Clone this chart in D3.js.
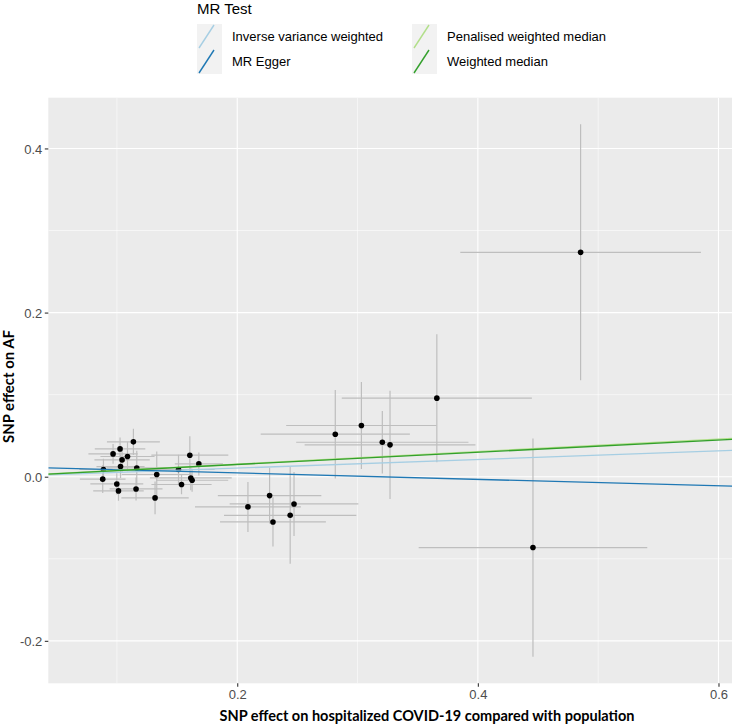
<!DOCTYPE html>
<html>
<head>
<meta charset="utf-8">
<script src="https://cdn.jsdelivr.net/npm/d3@7"></script>
<style>
  html, body { margin: 0; padding: 0; background: #ffffff; }
  svg { display: block; }
</style>
</head>
<body>
<svg id="chart" width="733" height="725"></svg>
<script>
// ---- data ----
const snpX    = [0.4854, 0.4458, 0.3659, 0.3032, 0.2815, 0.3206, 0.3270, 0.2089, 0.2269, 0.2297, 0.2440, 0.2472,
                 0.1137, 0.1026, 0.0968, 0.1088, 0.1043, 0.1030, 0.1165, 0.0888, 0.0882, 0.1331, 0.0999, 0.1013,
                 0.1159, 0.1317, 0.1606, 0.1681, 0.1512, 0.1614, 0.1625, 0.1537];
const snpY    = [0.2734, -0.0863, 0.0957, 0.0624, 0.0518, 0.0420, 0.0388, -0.0368, -0.0230, -0.0551, -0.0470, -0.0332,
                 0.0425, 0.0339, 0.0278, 0.0246, 0.0205, 0.0124, 0.0107, 0.0088, -0.0030, 0.0027, -0.0088, -0.0173,
                 -0.0149, -0.0258, 0.0262, 0.0156, 0.0088, -0.0015, -0.0043, -0.0095];
const snpXse  = [0.100, 0.095, 0.079, 0.0625, 0.062, 0.0716, 0.071, 0.044, 0.043, 0.044, 0.055, 0.0535,
                 0.022, 0.021, 0.0205, 0.0225, 0.023, 0.020, 0.025, 0.020, 0.019, 0.029, 0.022, 0.021,
                 0.022, 0.028, 0.032, 0.020, 0.030, 0.034, 0.030, 0.025];
const snpYse  = [0.156, 0.133, 0.078, 0.053, 0.054, 0.038, 0.066, 0.0305, 0.034, 0.030, 0.059, 0.039,
                 0.016, 0.014, 0.012, 0.018, 0.015, 0.014, 0.021, 0.013, 0.017, 0.028, 0.013, 0.012,
                 0.014, 0.020, 0.023, 0.014, 0.018, 0.015, 0.014, 0.012];

const methods    = ["Inverse variance weighted", "MR Egger", "Penalised weighted median", "Weighted median"];
const intercepts = [0, 0.0125, 0, 0];
const slopes     = [0.0525, -0.0393, 0.0765, 0.0745];
const colours    = ["#a6cee3", "#1f78b4", "#b2df8a", "#33a02c"];

const xTicks = [0.2, 0.4, 0.6];
const yTicks = [-0.2, 0.0, 0.2, 0.4];
const xMinor = [0.1, 0.3, 0.5];
const yMinor = [-0.1, 0.1, 0.3];

const legendTitle = "MR Test";
const xTitle = "SNP effect on hospitalized COVID-19 compared with population";
const yTitle = "SNP effect on AF";

// ---- layout ----
const svg = d3.select("#chart");
const P = { left: 48.3, right: 732, top: 97.7, bottom: 683.3 };

const pts = snpX.map((x, i) => ({ x, y: snpY[i], xse: snpXse[i], yse: snpYse[i] }));
const xLo = d3.min(pts, d => d.x - d.xse), xHi = d3.max(pts, d => d.x + d.xse);
const yLo = d3.min(pts, d => d.y - d.yse), yHi = d3.max(pts, d => d.y + d.yse);
const xPad = (xHi - xLo) * 0.05, yPad = (yHi - yLo) * 0.05;

const x = d3.scaleLinear().domain([xLo - xPad, xHi + xPad]).range([P.left, P.right]);
const y = d3.scaleLinear().domain([yLo - yPad, yHi + yPad]).range([P.bottom, P.top]);

const defs = svg.append("defs");
defs.append("clipPath").attr("id", "panel")
  .append("rect").attr("x", P.left).attr("y", P.top)
  .attr("width", P.right - P.left).attr("height", P.bottom - P.top);

// panel background
svg.append("rect").attr("x", P.left).attr("y", P.top)
  .attr("width", P.right - P.left).attr("height", P.bottom - P.top)
  .attr("fill", "#EBEBEB");

const grid = svg.append("g").attr("clip-path", "url(#panel)");
grid.selectAll("line.xminor").data(xMinor).join("line")
  .attr("x1", d => x(d)).attr("x2", d => x(d)).attr("y1", P.top).attr("y2", P.bottom)
  .attr("stroke", "#ffffff").attr("stroke-width", 0.55);
grid.selectAll("line.yminor").data(yMinor).join("line")
  .attr("y1", d => y(d)).attr("y2", d => y(d)).attr("x1", P.left).attr("x2", P.right)
  .attr("stroke", "#ffffff").attr("stroke-width", 0.55);
grid.selectAll("line.xmajor").data(xTicks).join("line")
  .attr("x1", d => x(d)).attr("x2", d => x(d)).attr("y1", P.top).attr("y2", P.bottom)
  .attr("stroke", "#ffffff").attr("stroke-width", 1.1);
grid.selectAll("line.ymajor").data(yTicks).join("line")
  .attr("y1", d => y(d)).attr("y2", d => y(d)).attr("x1", P.left).attr("x2", P.right)
  .attr("stroke", "#ffffff").attr("stroke-width", 1.1);

// error bars, points, regression lines
const plot = svg.append("g").attr("clip-path", "url(#panel)");
plot.selectAll("line.ev").data(pts).join("line")
  .attr("x1", d => x(d.x)).attr("x2", d => x(d.x))
  .attr("y1", d => y(d.y - d.yse)).attr("y2", d => y(d.y + d.yse))
  .attr("stroke", "#BEBEBE").attr("stroke-width", 1.2);
plot.selectAll("line.eh").data(pts).join("line")
  .attr("y1", d => y(d.y)).attr("y2", d => y(d.y))
  .attr("x1", d => x(d.x - d.xse)).attr("x2", d => x(d.x + d.xse))
  .attr("stroke", "#BEBEBE").attr("stroke-width", 1.2);
plot.selectAll("circle").data(pts).join("circle")
  .attr("cx", d => x(d.x)).attr("cy", d => y(d.y)).attr("r", 2.8)
  .attr("fill", "#000000");

const xd = x.domain();
const lines = methods.map((m, i) => ({ m, a: intercepts[i], b: slopes[i], c: colours[i] }));
plot.selectAll("line.abl").data(lines).join("line")
  .attr("x1", x(xd[0])).attr("x2", x(xd[1]))
  .attr("y1", d => y(d.a + d.b * xd[0])).attr("y2", d => y(d.a + d.b * xd[1]))
  .attr("stroke", d => d.c).attr("stroke-width", 1.4);

// axes
const fmt = d => d3.format(".1f")(d).replace("\u2212", "-");
const xAxis = svg.append("g").attr("transform", `translate(0,${P.bottom})`)
  .call(d3.axisBottom(x).tickValues(xTicks).tickFormat(fmt).tickSize(3.5).tickPadding(2.5));
const yAxis = svg.append("g").attr("transform", `translate(${P.left},0)`)
  .call(d3.axisLeft(y).tickValues(yTicks).tickFormat(fmt).tickSize(3.5).tickPadding(2.5));
[xAxis, yAxis].forEach(g => {
  g.attr("color", "#4D4D4D");
  g.select(".domain").remove();
  g.selectAll(".tick line").attr("stroke", "#333333").attr("stroke-width", 1.1);
  g.selectAll(".tick text").attr("fill", "#4D4D4D").style("fill", "#4D4D4D")
    .style("font-family", "'Liberation Sans', Arial, sans-serif").style("font-size", "13px");
});
yAxis.selectAll(".tick text").attr("dy", "0.35em");

// axis titles
const xt = svg.append("text").attr("x", 427).attr("y", 721).attr("text-anchor", "middle")
  .style("font-family", "Lato, 'Liberation Sans', sans-serif").style("font-weight", "bold")
  .style("font-size", "15px").attr("fill", "#000").text(xTitle);
const wx = xt.node().getComputedTextLength();
xt.style("font-size", (15 * 415 / wx).toFixed(2) + "px");

const yt = svg.append("text").attr("transform", `translate(14,386.5) rotate(-90)`)
  .attr("text-anchor", "middle")
  .style("font-family", "Lato, 'Liberation Sans', sans-serif").style("font-weight", "bold")
  .style("font-size", "15px").attr("fill", "#000").text(yTitle);
const wy = yt.node().getComputedTextLength();
yt.style("font-size", (15 * 113 / wy).toFixed(2) + "px");

// legend
const lg = svg.append("g");
lg.append("text").attr("x", 197).attr("y", 14).text(legendTitle)
  .style("font-family", "'Liberation Sans', Arial, sans-serif").style("font-size", "15px").attr("fill", "#000");
const keyW = 25, keyH = 25;
const colX = [197, 412], rowY = [24, 49];
lines.forEach((d, i) => {
  const cx = colX[Math.floor(i / 2)], cy = rowY[i % 2];
  lg.append("rect").attr("x", cx).attr("y", cy).attr("width", keyW).attr("height", keyH)
    .attr("fill", "#F2F2F2");
  lg.append("line").attr("x1", cx + 2).attr("y1", cy + keyH - 1).attr("x2", cx + keyW - 8).attr("y2", cy + 1)
    .attr("stroke", d.c).attr("stroke-width", 1.4);
  lg.append("text").attr("x", cx + 35).attr("y", cy + keyH / 2).attr("dy", "0.35em").text(d.m)
    .style("font-family", "'Liberation Sans', Arial, sans-serif").style("font-size", "13px").attr("fill", "#000");
});
</script>
</body>
</html>
